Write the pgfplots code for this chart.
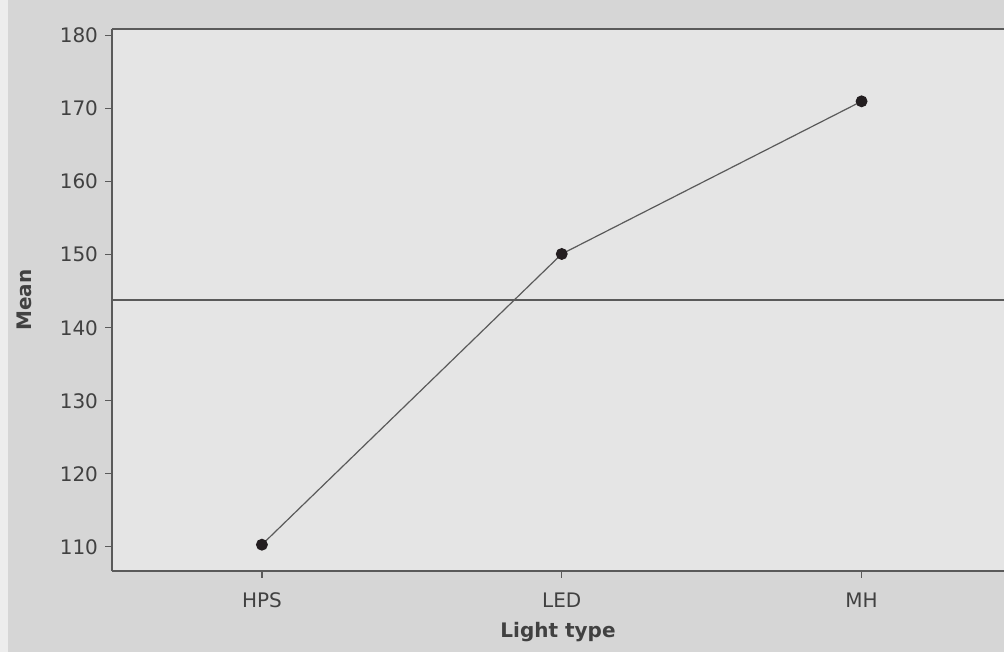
\documentclass[border=0pt]{standalone}
\usepackage{pgfplots}
\pgfplotsset{compat=1.18}
\usepackage{fontspec}
\setmainfont{DejaVu Sans}
\definecolor{bgout}{RGB}{214,214,214}
\definecolor{bgin}{RGB}{229,229,229}
\definecolor{ln}{RGB}{90,90,90}
\definecolor{txt}{RGB}{65,65,65}
\definecolor{mk}{RGB}{35,30,32}
\begin{document}
\begin{tikzpicture}[x=0.75pt,y=0.75pt]
\fill[bgout] (0,0) rectangle (1004,652);
\fill[white!55!bgout] (0,0) rectangle (8,652);
\path[use as bounding box] (0,0) rectangle (1004,652);
\begin{axis}[
  at={(84pt,60.75pt)}, anchor=south west,
  scale only axis, width=669pt, height=406.5pt,
  xmin=0.5, xmax=3.475, ymin=106.7, ymax=180.9,
  axis x line*=bottom, axis y line*=left,
  axis line style={ln, line width=1.1pt},
  axis background/.style={fill=bgin},
  xtick={1,2,3}, xticklabels={HPS,LED,MH},
  ytick={110,120,...,180},
  tick align=outside, major tick length=5pt,
  tick style={ln, line width=0.9pt},
  /pgf/number format/assume math mode=true,
  tick label style={font=\fontsize{15}{18}\selectfont, text=txt},
  yticklabel style={xshift=-2pt},
  xticklabel style={yshift=-8pt},
  xlabel={Light type}, ylabel={Mean},
  label style={font=\bfseries\fontsize{15}{18}\selectfont, text=txt},
  xlabel style={yshift=-4pt},
  ylabel style={yshift=14pt},
  clip=false,
]
\addplot[ln, line width=0.9pt, mark=*, mark size=4pt, mark options={fill=mk, draw=mk}]
  coordinates {(1,110.3) (2,150.1) (3,171.0)};
\addplot[ln, line width=0.9pt, no marks] coordinates {(0.5,143.8) (3.475,143.8)};
\draw[ln, line width=1.1pt] (rel axis cs:0,1) -- (rel axis cs:1,1);
\end{axis}
\end{tikzpicture}
\end{document}
